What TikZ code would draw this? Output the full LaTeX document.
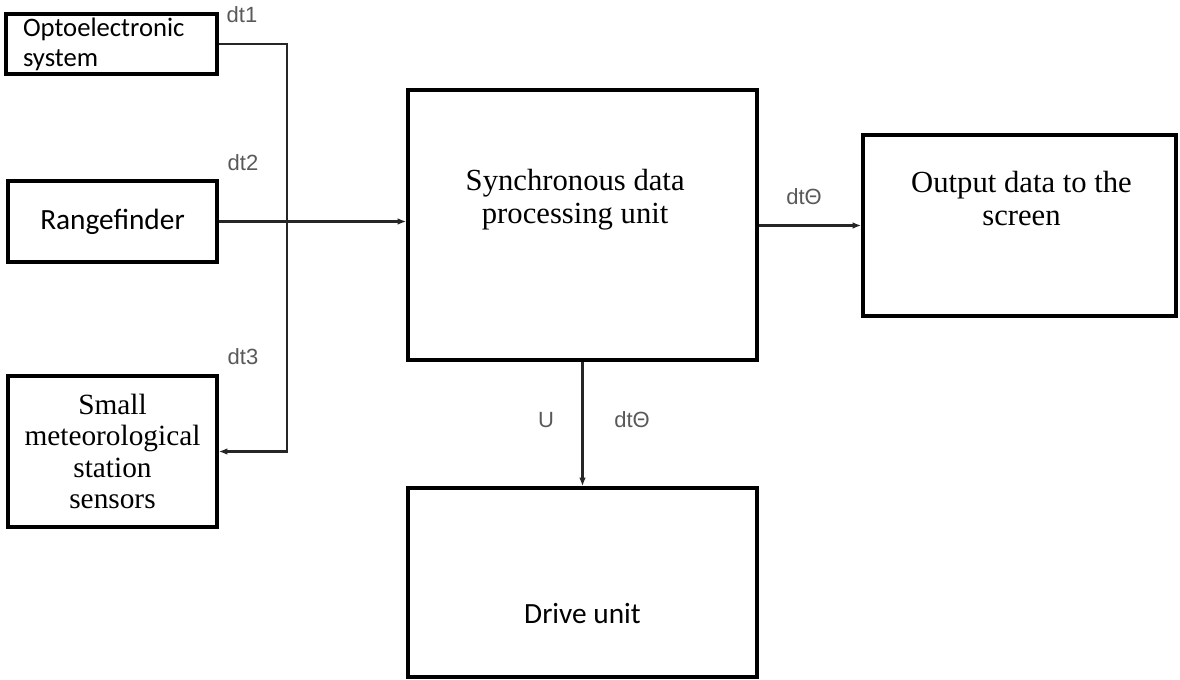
\documentclass[tikz,border=0pt]{standalone}
\usepackage{fontspec}
\usetikzlibrary{arrows.meta}
\newfontfamily\calibrifont{Carlito}
\newfontfamily\timesfont{Liberation Serif}
\newfontfamily\arialfont{Liberation Sans}

\begin{document}
\begin{tikzpicture}[x=0.75pt,y=0.75pt,yscale=-1,xscale=1,
  block/.style={draw, line width=2.6pt, inner sep=0pt, align=center},
  link/.style={draw=black!85, line width=1.6pt, -{Latex[length=6.5pt,width=5pt]}},
  tag/.style={text=black!65, font=\arialfont\fontsize{16.5}{18}\selectfont}]
\useasboundingbox (0,0) rectangle (1180,680);

%Shape: Rectangles (inputs)
\node [block, minimum width={211*0.75pt}, minimum height={60*0.75pt}, text width={177*0.75pt}, align=left, font=\calibrifont\fontsize{20}{22.5}\selectfont] (opto) at (111.5,44) {Optoelectronic\\system};
\node [block, minimum width={209*0.75pt}, minimum height={81*0.75pt}, font=\calibrifont\fontsize{22}{26}\selectfont] (range) at (112.5,221.5) {Rangefinder};
\node [block, minimum width={209*0.75pt}, minimum height={151*0.75pt}, font=\timesfont\fontsize{22}{23.5}\selectfont] (met) at (112.5,451.5) {Small\\meteorological\\station\\sensors};

%Shape: Rectangles (units)
\node [block, minimum width={349*0.75pt}, minimum height={270*0.75pt}, label={[xshift=-5.5pt, yshift=19pt, align=center, font=\timesfont\fontsize{23}{25}\selectfont]center:Synchronous data\\processing unit}] (sync) at (582.5,225) {};
\node [block, minimum width={313*0.75pt}, minimum height={181*0.75pt}, label={[xshift=1.5pt, yshift=20pt, align=center, font=\timesfont\fontsize{23}{25}\selectfont]center:Output data to the\\screen}] (out) at (1019.5,225.5) {};
\node [block, minimum width={349*0.75pt}, minimum height={189*0.75pt}, label={[yshift=-23pt, font=\calibrifont\fontsize{22}{26}\selectfont]center:Drive unit}] (drive) at (582.5,582.5) {};

%Straight Lines
\coordinate (bus) at (287,44);
\draw [link] (opto.east) -- (bus) |- (met.east);
\draw [link] (range.east) -- (range.east -| sync.west);
\draw [link] (sync.east |- out.west) -- (out.west);
\draw [link] (sync.south) -- (drive.north);

% Text Node
\node [tag] (dtone) at (242,15) {dt1};
\node [tag] (dttwo) at (243,163) {dt2};
\node [tag] (dtthree) at (243,357) {dt3};
\node [tag] (dtout) at (804,197) {dtΘ};
\node [tag] (uvolt) at (546,420) {U};
\node [tag] (dtdrive) at (632,420) {dtΘ};

\end{tikzpicture}
\end{document}
